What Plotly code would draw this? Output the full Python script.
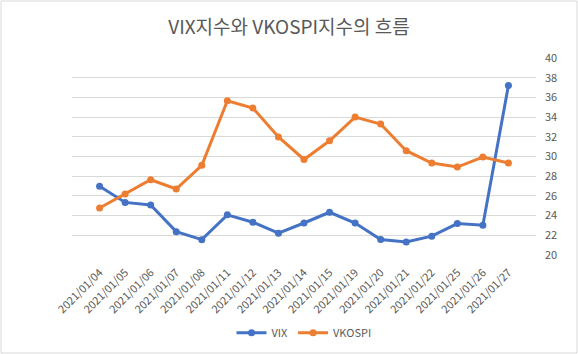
import plotly.graph_objects as go

dates = ["2021/01/04", "2021/01/05", "2021/01/06", "2021/01/07", "2021/01/08",
         "2021/01/11", "2021/01/12", "2021/01/13", "2021/01/14", "2021/01/15",
         "2021/01/19", "2021/01/20", "2021/01/21", "2021/01/22", "2021/01/25",
         "2021/01/26", "2021/01/27"]
vix = [26.97, 25.34, 25.07, 22.37, 21.56, 24.08, 23.33, 22.21, 23.25, 24.34,
       23.24, 21.58, 21.32, 21.91, 23.19, 23.02, 37.21]
vkospi = [24.77, 26.19, 27.64, 26.70, 29.10, 35.66, 34.92, 31.98, 29.70, 31.60,
          34.00, 33.30, 30.59, 29.34, 28.93, 29.95, 29.34]
y_ticks = list(range(20, 41, 2))

FONT = "Noto Sans CJK KR"
GRAY = "#595959"
W, H = 578, 354
ML, MR, MT, MB = 72, 42, 58, 99

fig = go.Figure()
fig.add_trace(go.Scatter(x=dates, y=vix, name="VIX", mode="lines+markers",
                         line=dict(color="#4472C4", width=3),
                         marker=dict(size=7, color="#4472C4")))
fig.add_trace(go.Scatter(x=dates, y=vkospi, name="VKOSPI", mode="lines+markers",
                         line=dict(color="#ED7D31", width=3),
                         marker=dict(size=7, color="#ED7D31")))

pw, ph = W - ML - MR, H - MT - MB
fig.add_shape(type="rect", xref="paper", yref="paper",
              x0=-(ML - 1) / pw, x1=1 + (MR - 1) / pw,
              y0=-(MB - 1) / ph, y1=1 + (MT - 1) / ph,
              line=dict(color="#d9d9d9", width=1), layer="below")

fig.update_layout(
    width=W, height=H,
    margin=dict(l=ML, r=MR, t=MT, b=MB, autoexpand=False),
    paper_bgcolor="white", plot_bgcolor="white",
    font=dict(family=FONT, color=GRAY, size=11),
    title=dict(text="VIX지수와 VKOSPI지수의 흐름", x=0.5, xanchor="center",
               y=1 - 27 / H, yanchor="middle",
               font=dict(size=19, color=GRAY, family=FONT)),
    showlegend=True,
    legend=dict(orientation="h", x=0.5, xanchor="center", y=-0.395, yanchor="middle",
                itemwidth=30, font=dict(size=11, color=GRAY), bgcolor="rgba(0,0,0,0)"),
    xaxis=dict(type="category", tickangle=-45, showgrid=False, showline=False,
               ticks="", tickfont=dict(size=11, color=GRAY), zeroline=False,
               ticklabelstandoff=8, automargin=False),
    yaxis=dict(side="right", range=[20, 40], tickvals=y_ticks, showgrid=True,
               gridcolor="#d9d9d9", gridwidth=1, zeroline=False, showline=False,
               ticks="", tickfont=dict(size=11, color=GRAY), ticklabelstandoff=8,
               automargin=False),
)

fig.write_html("out.html")
